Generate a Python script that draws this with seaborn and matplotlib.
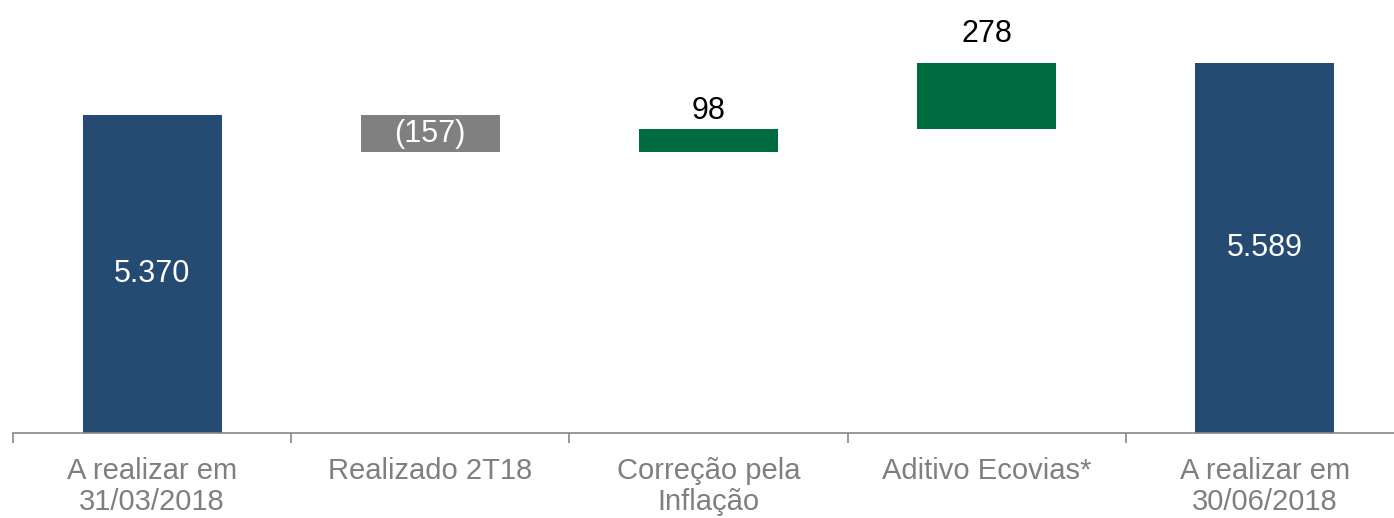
import numpy as np
import pandas as pd
import matplotlib
matplotlib.use("Agg")
import matplotlib.pyplot as plt
import seaborn as sns

# %% data
categories = ["A realizar em\n31/03/2018", "Realizado 2T18", "Correção pela\nInflação",
              "Aditivo Ecovias*", "A realizar em\n30/06/2018"]
values = [5370, -157, 98, 278, 5589]
kinds = ["total", "delta", "delta", "delta", "total"]
value_labels = ["5.370", "(157)", "98", "278", "5.589"]

# waterfall bottoms / tops
running = 0
bottoms, heights = [], []
for v, k in zip(values, kinds):
    if k == "total":
        bottoms.append(0)
        heights.append(v)
        running = v
    else:
        bottoms.append(min(running, running + v))
        heights.append(abs(v))
        running += v

df = pd.DataFrame({"cat": categories, "height": heights, "bottom": bottoms})

colors = {"total": "#264B73", "neg": "#808080", "pos": "#006B3F"}
bar_colors = [colors["total"] if k == "total" else (colors["neg"] if v < 0 else colors["pos"])
              for v, k in zip(values, kinds)]

# %% plot
sns.set_style("white")
plt.rcParams["font.family"] = ["Liberation Sans", "DejaVu Sans"]

fig = plt.figure(figsize=(13.94, 5.18), dpi=100)
ax = fig.add_axes([13 / 1394, 85 / 518, 5 * 278.2 / 1394, 433 / 518])

sns.barplot(data=df, x="cat", y="height", bottom=df["bottom"].values, width=0.5,
            color=colors["total"], ax=ax, saturation=1)
for p, c in zip(ax.patches, bar_colors):
    p.set_facecolor(c)
    p.set_edgecolor("none")

ax.set_ylim(4030, 5854)
ax.set_xlim(-0.5, 4.5)

# labels
lbl_pad = [0, 0, 7, 15, 0]  # points above bar for positive deltas
for i, (v, k) in enumerate(zip(values, kinds)):
    top = bottoms[i] + heights[i]
    if k == "total" or v < 0:
        ymid = (max(bottoms[i], 4030) + top) / 2
        ax.text(i, ymid, value_labels[i], ha="center", va="center",
                color="white", fontsize=22)
    else:
        ax.annotate(value_labels[i], (i, top), xytext=(0, lbl_pad[i]),
                    textcoords="offset points", ha="center", va="baseline",
                    color="black", fontsize=22)

# axes styling
sns.despine(ax=ax, left=True, top=True, right=True)
ax.spines["bottom"].set_color("#888888")
ax.spines["bottom"].set_linewidth(1.2)
ax.set_yticks([])
ax.set_xlabel("")
ax.set_ylabel("")
ax.set_xticks(range(len(categories)))
ax.set_xticklabels(categories, color="#7F7F7F", fontsize=21, linespacing=1.15)
ax.tick_params(axis="x", which="major", length=0, pad=17)
ax.set_xticks(np.arange(-0.5, len(categories), 1.0), minor=True)
ax.tick_params(axis="x", which="minor", bottom=True, length=7, width=1.2,
               color="#888888", direction="out")

fig.savefig("out.png", dpi=100)
